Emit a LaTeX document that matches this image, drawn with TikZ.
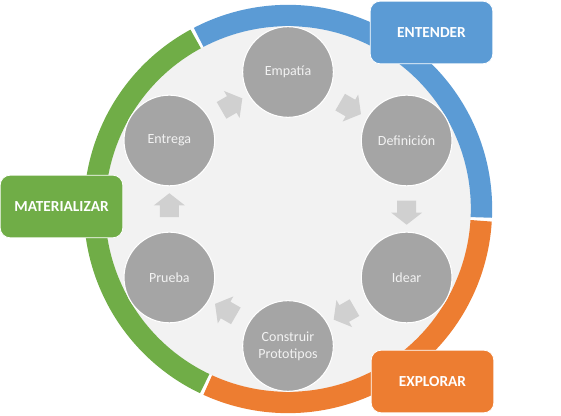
\documentclass[tikz,border=0pt]{standalone}
\usepackage{fontspec}
\setmainfont{Carlito}
\usetikzlibrary{shapes.arrows,calc}
\definecolor{ringblue}{HTML}{5B9BD5}
\definecolor{ringorange}{HTML}{ED7D31}
\definecolor{ringgreen}{HTML}{70AD47}
\definecolor{phasegray}{HTML}{A5A5A5}
\definecolor{discgray}{HTML}{F2F2F2}
\definecolor{flowgray}{HTML}{D0D0D0}

\begin{document}
\begin{tikzpicture}[x=0.75pt,y=0.75pt,
  phase/.style={circle,fill=phasegray,draw=white,line width=0.8pt,minimum size=68pt,inner sep=0pt,align=center,text=discgray,font=\fontsize{10.5}{12.5}\selectfont},
  stagebox/.style={rounded corners=7.5pt,draw=white,line width=0.6pt,minimum width=92pt,minimum height=47pt,text=white,font=\fontsize{11.5}{13}\selectfont\bfseries},
  flow/.style={single arrow,fill=flowgray,inner xsep=0pt,inner ysep=7pt,minimum height=18pt,single arrow head extend=4.5pt,single arrow tip angle=104},
  ring/.style={line width=16pt}]
\useasboundingbox (0,0) rectangle (561,416);
\coordinate (c) at (288,207);
\fill[discgray] (c) circle (183);
% outer ring in three parts
\draw[ring,ringblue] ($(c)+(-2.5:193.5)$) arc[start angle=-2.5,end angle=117.5,radius=193.5];
\draw[ring,ringgreen] ($(c)+(118.5:193.5)$) arc[start angle=118.5,end angle=244.5,radius=193.5];
\draw[ring,ringorange] ($(c)+(245.5:193.5)$) arc[start angle=245.5,end angle=356.5,radius=193.5];
% steps
\node[phase] (empatia) at ($(c)+(90:137)$) {Empatía};
\node[phase] (definicion) at ($(c)+(30:137)$) {Definición};
\node[phase] (idear) at ($(c)+(-30:137)$) {Idear};
\node[phase] (construir) at ($(c)+(-90:137)$) {Construir\\Prototipos};
\node[phase] (prueba) at ($(c)+(-150:137)$) {Prueba};
\node[phase] (entrega) at ($(c)+(150:137)$) {Entrega};
% block arrows between the steps
\node[flow,rotate=-30] (f1) at ($(empatia)!0.5!(definicion)$) {};
\node[flow,rotate=-90] (f2) at ($(definicion)!0.5!(idear)$) {};
\node[flow,rotate=-150] (f3) at ($(idear)!0.5!(construir)$) {};
\node[flow,rotate=150] (f4) at ($(construir)!0.5!(prueba)$) {};
\node[flow,rotate=90] (f5) at ($(prueba)!0.5!(entrega)$) {};
\node[flow,rotate=30] (f6) at ($(entrega)!0.5!(empatia)$) {};
% stage labels
\node[stagebox,fill=ringblue] (entender) at (431.5,383.5) {ENTENDER};
\node[stagebox,fill=ringgreen] (materializar) at (61.5,209.5) {MATERIALIZAR};
\node[stagebox,fill=ringorange] (explorar) at (432.5,34.5) {EXPLORAR};
\end{tikzpicture}
\end{document}
